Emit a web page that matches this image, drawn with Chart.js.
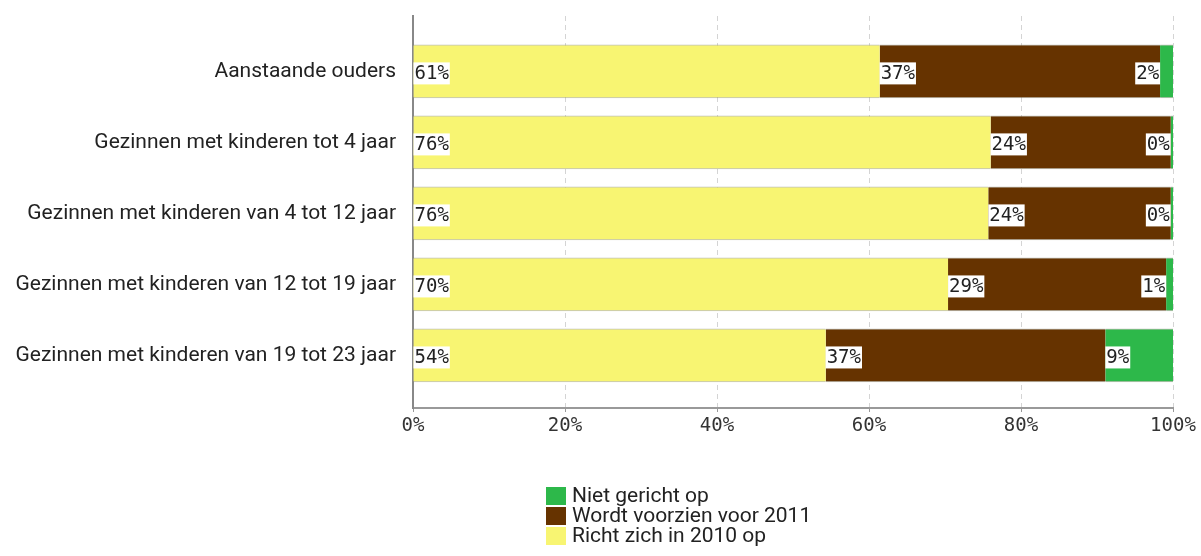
<!DOCTYPE html>
<html>
<head>
<meta charset="utf-8">
<script src="https://cdn.jsdelivr.net/npm/chart.js@4/dist/chart.umd.min.js"></script>
<style>
  html, body { margin: 0; padding: 0; background: #fff; }
  #wrap { width: 1201px; height: 556px; }
</style>
</head>
<body>
<div id="wrap"><canvas id="chart"></canvas></div>
<script>
const categories = [
  'Aanstaande ouders',
  'Gezinnen met kinderen tot 4 jaar',
  'Gezinnen met kinderen van 4 tot 12 jaar',
  'Gezinnen met kinderen van 12 tot 19 jaar',
  'Gezinnen met kinderen van 19 tot 23 jaar'
];
const richt = [61.4, 76.0, 75.7, 70.4, 54.3];
const voorzien = [36.9, 23.7, 24.0, 28.7, 36.8];
const niet = [1.7, 0.3, 0.3, 0.9, 8.9];
const xTicks = [0, 20, 40, 60, 80, 100];

const LABEL_FONT = 'Roboto';
const MONO = "'DejaVu Sans Mono'";

function rows(values) {
  return values.map((v, i) => ({ x: v, y: i }));
}

/* value boxes at the start of each segment, pushed left when they would spill past 100% */
const segmentLabels = {
  id: 'segmentLabels',
  afterDatasetsDraw(chart) {
    const { ctx, chartArea } = chart;
    ctx.save();
    ctx.font = '19px ' + MONO;
    ctx.textBaseline = 'middle';
    chart.data.datasets.forEach((ds, di) => {
      chart.getDatasetMeta(di).data.forEach((bar, i) => {
        const txt = Math.round(ds.data[i].x) + '%';
        const w = ctx.measureText(txt).width + 2;
        const h = 22;
        let x = Math.min(bar.base, bar.x);
        if (x + w > chartArea.right) x = x - w;
        const y = bar.y + 2;
        ctx.fillStyle = '#fff';
        ctx.fillRect(x, y - h / 2, w, h);
        ctx.fillStyle = '#222';
        ctx.fillText(txt, x + 1, y + 1);
      });
    });
    ctx.restore();
  }
};

/* stacked legend, one row per series, in reverse order */
const stackedLegend = {
  id: 'stackedLegend',
  afterDraw(chart) {
    const { ctx } = chart;
    const items = chart.data.datasets.slice().reverse();
    ctx.save();
    ctx.font = '21px ' + LABEL_FONT;
    ctx.textBaseline = 'middle';
    items.forEach((ds, i) => {
      const y = 496 + i * 20;
      ctx.fillStyle = ds.backgroundColor;
      ctx.fillRect(546, y - 9, 20, 18);
      ctx.fillStyle = '#222';
      ctx.fillText(ds.label, 572, y + 1);
    });
    ctx.restore();
  }
};

const barBorder = { top: 1, bottom: 1, left: 0, right: 0 };

new Chart(document.getElementById('chart'), {
  type: 'bar',
  data: {
    datasets: [
      { label: 'Richt zich in 2010 op', data: rows(richt), backgroundColor: '#f8f572', borderColor: 'rgba(120,120,100,0.45)', borderWidth: barBorder, borderSkipped: false },
      { label: 'Wordt voorzien voor 2011', data: rows(voorzien), backgroundColor: '#663300', borderColor: 'rgba(120,120,100,0.45)', borderWidth: barBorder, borderSkipped: false },
      { label: 'Niet gericht op', data: rows(niet), backgroundColor: '#2db84a', borderColor: 'rgba(120,120,100,0.45)', borderWidth: barBorder, borderSkipped: false }
    ]
  },
  options: {
    indexAxis: 'y',
    responsive: true,
    maintainAspectRatio: false,
    animation: false,
    barThickness: 53,
    layout: { padding: { top: 16, right: 28, left: 0, bottom: 0 } },
    plugins: { legend: { display: false }, tooltip: { enabled: false } },
    scales: {
      x: {
        type: 'linear', stacked: true, min: 0, max: 100,
        afterBuildTicks: s => { s.ticks = xTicks.map(v => ({ value: v })); },
        afterFit: s => { s.height = 148; },
        grid: { color: '#d4d4d4', tickLength: 4, tickColor: '#999' },
        border: { display: true, color: '#999', width: 2, dash: [5, 4] },
        ticks: { color: '#333', padding: 3, font: { family: MONO, size: 19 }, callback: v => v + '%' }
      },
      y: {
        type: 'linear', stacked: true, reverse: true, offset: false, min: -0.78, max: 4.74,
        afterBuildTicks: s => { s.ticks = categories.map((c, i) => ({ value: i })); },
        afterFit: s => { s.width = 413; s.paddingTop = 0; s.paddingBottom = 0; },
        grid: { display: false },
        border: { display: true, color: '#888', width: 2 },
        ticks: { color: '#222', padding: 9, font: { family: LABEL_FONT, size: 21 }, callback: v => categories[v] }
      }
    }
  },
  plugins: [segmentLabels, stackedLegend]
});
</script>
</body>
</html>
